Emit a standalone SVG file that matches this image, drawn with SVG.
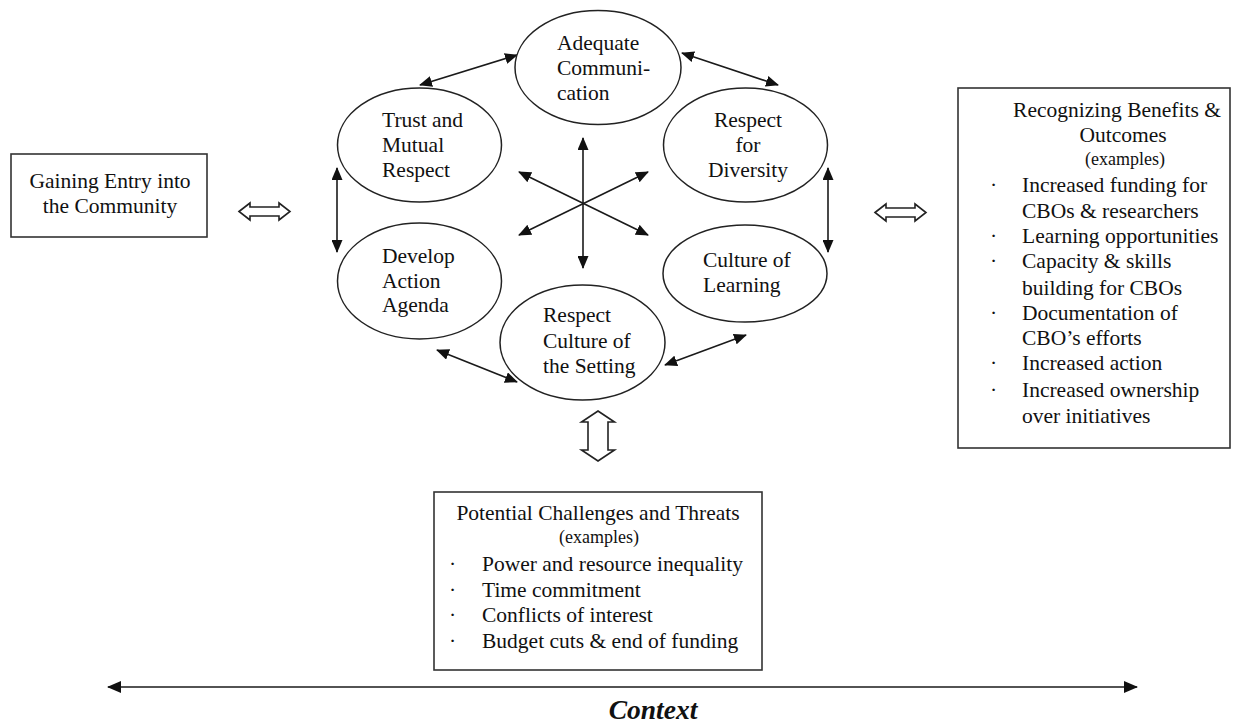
<svg xmlns="http://www.w3.org/2000/svg" width="1233" height="724" viewBox="0 0 1233 724">
<style>
  text { font-family: "Liberation Serif", "Times New Roman", serif; fill: #111; }
  .t { font-size: 21.5px; }
  .s { font-size: 18px; }
  .node { fill: #fff; stroke: #222; stroke-width: 1.5; }
  .box { fill: #fff; stroke: #333; stroke-width: 1.6; }
  .c { fill: none; stroke: #1a1a1a; stroke-width: 1.6; }
  .hollow { fill: #fff; stroke: #222; stroke-width: 1.6; stroke-linejoin: miter; }
</style>
<defs>
  <marker id="ah" viewBox="0 0 13 11" refX="12" refY="5.5" markerWidth="13" markerHeight="11" markerUnits="userSpaceOnUse" orient="auto-start-reverse">
    <path d="M0,0 L13,5.5 L0,11 Z" fill="#111"/>
  </marker>
  <marker id="ahc" viewBox="0 0 14 12" refX="13" refY="6" markerWidth="14" markerHeight="12" markerUnits="userSpaceOnUse" orient="auto-start-reverse">
    <path d="M0,0 L14,6 L0,12 Z" fill="#111"/>
  </marker>
</defs>

<g id="connectors">
  <line class="c" x1="420" y1="85" x2="517" y2="55" marker-start="url(#ah)" marker-end="url(#ah)"/>
  <line class="c" x1="682" y1="53" x2="778" y2="85" marker-start="url(#ah)" marker-end="url(#ah)"/>
  <line class="c" x1="337" y1="168" x2="337" y2="252" marker-start="url(#ah)" marker-end="url(#ah)"/>
  <line class="c" x1="828" y1="168" x2="828" y2="252" marker-start="url(#ah)" marker-end="url(#ah)"/>
  <line class="c" x1="437" y1="350" x2="517" y2="382" marker-start="url(#ah)" marker-end="url(#ah)"/>
  <line class="c" x1="665" y1="365" x2="746" y2="335" marker-start="url(#ah)" marker-end="url(#ah)"/>
  <line class="c" x1="583" y1="138" x2="583" y2="268" marker-start="url(#ah)" marker-end="url(#ah)"/>
  <line class="c" x1="519" y1="172" x2="648" y2="235" marker-start="url(#ah)" marker-end="url(#ah)"/>
  <line class="c" x1="648" y1="172" x2="519" y2="235" marker-start="url(#ah)" marker-end="url(#ah)"/>
  <path class="hollow" d="M239,211.5 L250,203 L250,207 L279,207 L279,203 L290,211.5 L279,220 L279,216 L250,216 L250,220 Z"/>
  <path class="hollow" d="M875,212.5 L886,204 L886,208 L915,208 L915,204 L926,212.5 L915,221 L915,217 L886,217 L886,221 Z"/>
  <path class="hollow" d="M598,411 L614.5,422 L608,422 L608,450 L614.5,450 L598,461 L581.5,450 L588,450 L588,422 L581.5,422 Z"/>
  <line class="c" x1="108" y1="687" x2="1137" y2="687" stroke-width="2" marker-start="url(#ahc)" marker-end="url(#ahc)"/>
</g>

<g id="adequate-communication">
  <ellipse class="node" cx="598" cy="67.5" rx="83" ry="57"/>
  <text class="t" x="557" y="50">Adequate</text>
  <text class="t" x="557" y="75">Communi-</text>
  <text class="t" x="557" y="100">cation</text>
</g>
<g id="trust-mutual-respect">
  <ellipse class="node" cx="419.5" cy="145" rx="82" ry="57"/>
  <text class="t" x="382" y="127">Trust and</text>
  <text class="t" x="382" y="152">Mutual</text>
  <text class="t" x="382" y="177">Respect</text>
</g>
<g id="respect-diversity">
  <ellipse class="node" cx="745.5" cy="145" rx="82" ry="57"/>
  <text class="t" x="748" y="127" text-anchor="middle">Respect</text>
  <text class="t" x="748" y="152" text-anchor="middle">for</text>
  <text class="t" x="748" y="177" text-anchor="middle">Diversity</text>
</g>
<g id="develop-action-agenda">
  <ellipse class="node" cx="419.5" cy="281" rx="82" ry="58"/>
  <text class="t" x="382" y="263">Develop</text>
  <text class="t" x="382" y="288">Action</text>
  <text class="t" x="382" y="312">Agenda</text>
</g>
<g id="culture-learning">
  <ellipse class="node" cx="745" cy="273.5" rx="82" ry="48.5"/>
  <text class="t" x="703" y="267">Culture of</text>
  <text class="t" x="703" y="292">Learning</text>
</g>
<g id="respect-culture-setting">
  <ellipse class="node" cx="582.5" cy="342.5" rx="82.5" ry="57.5"/>
  <text class="t" x="543" y="322">Respect</text>
  <text class="t" x="543" y="348">Culture of</text>
  <text class="t" x="543" y="373">the Setting</text>
</g>

<g id="gaining-entry">
  <rect class="box" x="11" y="154" width="196" height="83"/>
  <text class="t" x="110" y="188" text-anchor="middle">Gaining Entry into</text>
  <text class="t" x="110" y="213" text-anchor="middle">the Community</text>
</g>

<g id="benefits-outcomes">
  <rect class="box" x="958" y="88" width="272" height="360"/>
  <text class="t" x="1117" y="117" text-anchor="middle">Recognizing Benefits &amp;</text>
  <text class="t" x="1123" y="142" text-anchor="middle">Outcomes</text>
  <text class="s" x="1125" y="165" text-anchor="middle">(examples)</text>
  <text class="t" x="990" y="192">·</text><text class="t" x="1022" y="192">Increased funding for</text>
  <text class="t" x="1022" y="218">CBOs &amp; researchers</text>
  <text class="t" x="990" y="243">·</text><text class="t" x="1022" y="243">Learning opportunities</text>
  <text class="t" x="990" y="268">·</text><text class="t" x="1022" y="268">Capacity &amp; skills</text>
  <text class="t" x="1022" y="295">building for CBOs</text>
  <text class="t" x="990" y="320">·</text><text class="t" x="1022" y="320">Documentation of</text>
  <text class="t" x="1022" y="345">CBO’s efforts</text>
  <text class="t" x="990" y="370">·</text><text class="t" x="1022" y="370">Increased action</text>
  <text class="t" x="990" y="397">·</text><text class="t" x="1022" y="397">Increased ownership</text>
  <text class="t" x="1022" y="423">over initiatives</text>
</g>

<g id="challenges-threats">
  <rect class="box" x="434" y="492" width="328" height="178"/>
  <text class="t" x="598" y="520" text-anchor="middle">Potential Challenges and Threats</text>
  <text class="s" x="599" y="543" text-anchor="middle">(examples)</text>
  <text class="t" x="449" y="571">·</text><text class="t" x="482" y="571">Power and resource inequality</text>
  <text class="t" x="449" y="597">·</text><text class="t" x="482" y="597">Time commitment</text>
  <text class="t" x="449" y="622">·</text><text class="t" x="482" y="622">Conflicts of interest</text>
  <text class="t" x="449" y="648">·</text><text class="t" x="482" y="648">Budget cuts &amp; end of funding</text>
</g>

<g id="context">
  <text x="653" y="719" text-anchor="middle" font-size="27.5" font-weight="bold" font-style="italic">Context</text>
</g>
</svg>
